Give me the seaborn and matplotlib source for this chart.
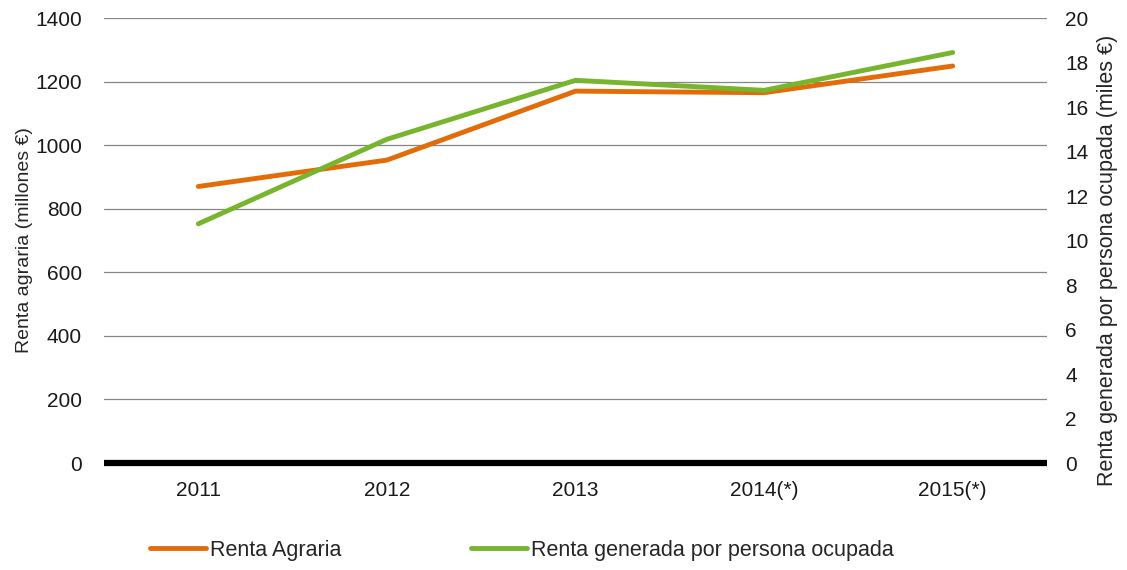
import numpy as np
import pandas as pd
import matplotlib.pyplot as plt
import seaborn as sns
from matplotlib.lines import Line2D

# Data
years = ['2011', '2012', '2013', '2014(*)', '2015(*)']
renta_agraria = [870, 953, 1170, 1165, 1249]          # millones €
renta_persona = [10.75, 14.55, 17.2, 16.75, 18.45]     # miles €

sns.set_style('white')
plt.rcParams['font.family'] = ['Liberation Sans', 'DejaVu Sans']

orange = '#E36C09'
green = '#77B52F'

df = pd.DataFrame({'Año': years, 'Renta': renta_agraria, 'Persona': renta_persona})

fig = plt.figure(figsize=(11.27, 5.70), dpi=100)
ax = fig.add_axes([0.0923, 0.1877, 0.8367, 0.7807])
ax2 = ax.twinx()

sns.lineplot(data=df, x='Año', y='Renta', ax=ax, color=orange, linewidth=3.5, sort=False)
sns.lineplot(data=df, x='Año', y='Persona', ax=ax2, color=green, linewidth=3.5, sort=False)

ax.set_xlim(-0.5, 4.5)
ax.set_ylim(0, 1400)
ax.set_yticks(np.arange(0, 1401, 200))
ax2.set_ylim(0, 20)
ax2.set_yticks(np.arange(0, 21, 2))

ax.yaxis.grid(True, color='#868686', linewidth=0.9)
ax.set_axisbelow(True)
ax.axhline(0, color='black', linewidth=4.5, zorder=5, clip_on=False,
           solid_capstyle='butt')

for a in (ax, ax2):
    for s in a.spines.values():
        s.set_visible(False)
    a.tick_params(length=0, labelsize=15, colors='#1a1a1a')

ax.tick_params(axis='y', pad=16)
ax.tick_params(axis='x', pad=13)
ax2.tick_params(axis='y', pad=13)

ax.set_xlabel('')
ax.set_ylabel('Renta agraria (millones €)', fontsize=14)
ax.yaxis.set_label_coords(-0.0755, 0.5)
ax2.set_ylabel('Renta generada por persona ocupada (miles €)', fontsize=15.5)
ax2.yaxis.set_label_coords(1.0535, 0.456)

handles = [Line2D([0], [0], color=orange, linewidth=3.5),
           Line2D([0], [0], color=green, linewidth=3.5)]
fig.legend(handles, ['Renta Agraria', 'Renta generada por persona ocupada'],
           loc='center left', bbox_to_anchor=(0.133, 0.035), ncol=2, frameon=False,
           fontsize=15.5, handlelength=2.6, handletextpad=0.2, columnspacing=6.0,
           borderpad=0, borderaxespad=0)

fig.savefig('out.png', dpi=100)
